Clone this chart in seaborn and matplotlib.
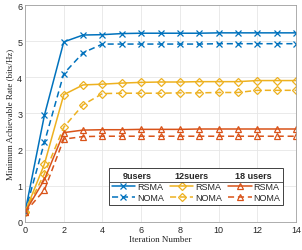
import matplotlib
matplotlib.use("Agg")
import matplotlib.pyplot as plt
import pandas as pd
import seaborn as sns
from matplotlib.lines import Line2D

# Data
iterations = list(range(15))
rsma_9 = [0.27, 2.95, 4.98, 5.17, 5.18, 5.21, 5.22, 5.22, 5.22, 5.22, 5.23, 5.23, 5.23, 5.23, 5.23]
noma_9 = [0.27, 2.20, 4.10, 4.68, 4.92, 4.92, 4.92, 4.92, 4.92, 4.92, 4.93, 4.93, 4.93, 4.93, 4.93]
rsma_12 = [0.27, 1.60, 3.52, 3.79, 3.81, 3.84, 3.86, 3.87, 3.87, 3.88, 3.88, 3.88, 3.91, 3.91, 3.91]
noma_12 = [0.27, 1.33, 2.62, 3.24, 3.55, 3.56, 3.56, 3.56, 3.57, 3.57, 3.58, 3.58, 3.64, 3.64, 3.64]
rsma_18 = [0.27, 1.17, 2.47, 2.54, 2.55, 2.55, 2.56, 2.56, 2.56, 2.57, 2.57, 2.57, 2.57, 2.57, 2.57]
noma_18 = [0.27, 0.88, 2.29, 2.36, 2.37, 2.37, 2.37, 2.37, 2.37, 2.37, 2.37, 2.37, 2.37, 2.37, 2.37]

group_titles = ["9users", "12suers", "18 users"]

blue, yellow, orange = "#0072BD", "#EDB120", "#D95319"

series = [
    ("RSMA", rsma_9, blue, "x", "-"),
    ("NOMA", noma_9, blue, "x", "--"),
    ("RSMA", rsma_12, yellow, "D", "-"),
    ("NOMA", noma_12, yellow, "D", "--"),
    ("RSMA", rsma_18, orange, "^", "-"),
    ("NOMA", noma_18, orange, "^", "--"),
]

sns.set_theme(style="whitegrid")
plt.rcParams["font.family"] = ["Liberation Sans", "DejaVu Sans"]

fig = plt.figure(figsize=(3.02, 2.51), dpi=100)
ax = fig.add_axes([0.083, 0.112, 0.897, 0.864])

handles = []
for name, values, color, marker, ls in series:
    df = pd.DataFrame({"iter": iterations, "rate": values})
    sns.lineplot(data=df, x="iter", y="rate", ax=ax, color=color, legend=False,
                 linewidth=1.1)
    line = ax.lines[-1]
    line.set_linestyle((0, (4, 2.5)) if ls == "--" else "-")
    line.set_marker(marker)
    line.set_markersize(4.5 if marker != "D" else 3.6)
    line.set_markerfacecolor("none")
    line.set_markeredgecolor(color)
    line.set_markeredgewidth(0.9)
    handles.append(Line2D([0], [0], color=color, lw=1.1,
                          ls=(0, (4, 2.5)) if ls == "--" else "-",
                          marker=marker, markersize=4.5 if marker != "D" else 3.6,
                          markerfacecolor="none", markeredgewidth=0.9))

ax.set_xlim(0, 14)
ax.set_ylim(0, 6)
ax.set_xticks(range(0, 15, 2))
ax.set_yticks(range(0, 7))
ax.tick_params(labelsize=6.5, length=2, direction="in", pad=2, colors="#262626")
ax.grid(True, color="#e6e6e6", linewidth=0.6)
for sp in ax.spines.values():
    sp.set_color("#a0a0a0")
    sp.set_linewidth(0.6)

ax.set_xlabel("Iteration Number", family="Liberation Serif", fontsize=6.5, labelpad=1, color="#262626")
ax.set_ylabel("Minimum Achievable Rate (bits/Hz)", family="Liberation Serif", fontsize=6.5,
              labelpad=2, color="#262626")

labels = [s[0] for s in series]
leg = ax.legend(handles, labels, ncol=3, loc="lower left",
                bbox_to_anchor=(0.31, 0.078, 0.642, 0.171), mode="expand",
                borderaxespad=0, fontsize=6.5, title=" ", title_fontsize=6.5,
                handlelength=2.6, handletextpad=0.2, columnspacing=0.6,
                labelspacing=0.25, borderpad=0.3, fancybox=False, framealpha=1,
                edgecolor="#404040")
leg.get_frame().set_linewidth(0.7)

# Group headers and separator line inside the legend
for gx, title in zip([0.413, 0.616, 0.841], group_titles):
    ax.text(gx, 0.213, title, transform=ax.transAxes, ha="center", va="center",
            fontsize=6.5, fontweight="bold", zorder=10)
ax.add_line(Line2D([0.31, 0.952], [0.186, 0.186], transform=ax.transAxes,
                   color="#404040", lw=0.6, zorder=10))

fig.savefig("out.png", dpi=100)
